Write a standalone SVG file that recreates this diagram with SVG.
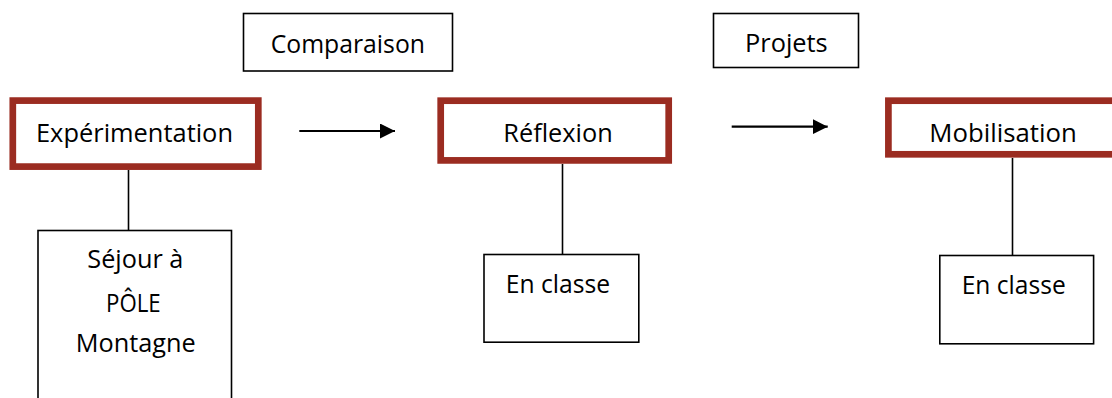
<svg xmlns="http://www.w3.org/2000/svg" width="1112" height="398" viewBox="0 0 1112 398">
<defs>
<style>
.red{fill:#fff;stroke:#9b2c21;stroke-width:6.7}
.blk{fill:#fff;stroke:#000;stroke-width:1.6}
.t{font-family:"Open Sans","Noto Sans","Liberation Sans",sans-serif;font-size:26px;fill:#000}
.ln{stroke:#000;stroke-width:1.6;fill:none}
.ar{stroke:#000;stroke-width:2.2;fill:none}
</style>
<marker id="ah" viewBox="0 0 10 10" refX="10" refY="5" markerWidth="15" markerHeight="15" markerUnits="userSpaceOnUse" orient="auto">
<path d="M0,0 L10,5 L0,10 z" fill="#000"/>
</marker>
</defs>
<rect width="1112" height="398" fill="#fff"/>
<g id="connectors">
<line class="ln" x1="128.5" y1="170" x2="128.5" y2="230"/>
<line class="ln" x1="562.5" y1="164" x2="562.5" y2="254"/>
<line class="ln" x1="1012.5" y1="158" x2="1012.5" y2="255"/>
<line class="ar" x1="299.3" y1="131" x2="395" y2="131" marker-end="url(#ah)"/>
<line class="ar" x1="731.7" y1="126.7" x2="827.7" y2="126.7" marker-end="url(#ah)"/>
</g>
<g id="comparaison">
<rect class="blk" x="243.5" y="13.5" width="209" height="57.5"/>
<text class="t" x="270.7" y="53.3" textLength="154.3" lengthAdjust="spacingAndGlyphs">Comparaison</text>
</g>
<g id="projets">
<rect class="blk" x="713.5" y="13.5" width="145" height="54"/>
<text class="t" x="745" y="51.7" textLength="82.7" lengthAdjust="spacingAndGlyphs">Projets</text>
</g>
<g id="experimentation">
<rect class="red" x="12.8" y="100.6" width="245.5" height="66"/>
<text class="t" x="36" y="142.3" textLength="197" lengthAdjust="spacingAndGlyphs">Expérimentation</text>
</g>
<g id="reflexion">
<rect class="red" x="440.7" y="100.7" width="228" height="59.7"/>
<text class="t" x="503.3" y="142.3" textLength="109.4" lengthAdjust="spacingAndGlyphs">Réflexion</text>
</g>
<g id="mobilisation">
<rect class="red" x="888.4" y="100.7" width="235" height="53.6"/>
<text class="t" x="929.3" y="141.7" textLength="147.4" lengthAdjust="spacingAndGlyphs">Mobilisation</text>
</g>
<g id="sejour">
<rect class="blk" x="38" y="230.5" width="193.5" height="180"/>
<text class="t" x="87.3" y="268.3" textLength="96" lengthAdjust="spacingAndGlyphs">Séjour à</text>
<text class="t" x="106" y="311.7" textLength="54.7" lengthAdjust="spacingAndGlyphs">PÔLE</text>
<text class="t" x="75.7" y="351.7" textLength="120" lengthAdjust="spacingAndGlyphs">Montagne</text>
</g>
<g id="enclasse1">
<rect class="blk" x="484" y="254.5" width="154.8" height="87.7"/>
<text class="t" x="505.7" y="292.7" textLength="104.3" lengthAdjust="spacingAndGlyphs">En classe</text>
</g>
<g id="enclasse2">
<rect class="blk" x="939.8" y="255.5" width="153.8" height="88.3"/>
<text class="t" x="961.7" y="294" textLength="104" lengthAdjust="spacingAndGlyphs">En classe</text>
</g>
</svg>
